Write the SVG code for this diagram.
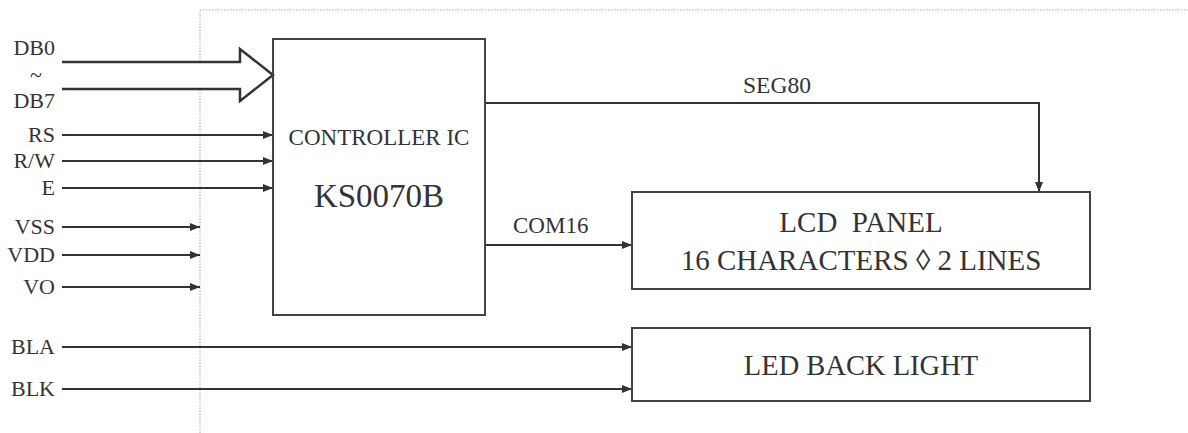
<svg xmlns="http://www.w3.org/2000/svg" width="1188" height="433" viewBox="0 0 1188 433">
<defs>
<marker id="ah" viewBox="0 0 10 8" refX="10" refY="4" markerWidth="10" markerHeight="8" markerUnits="userSpaceOnUse" orient="auto">
<path d="M0,0 L10,4 L0,8 Z" fill="#333"/>
</marker>
</defs>
<style>
text{font-family:"Liberation Serif","Times New Roman",serif;fill:#333}
.lbl{font-size:22px;text-anchor:end}
.box{fill:none;stroke:#444;stroke-width:2}
.wa{stroke:#333;stroke-width:2;fill:none;marker-end:url(#ah)}
</style>
<rect width="1188" height="433" fill="#fff"/>
<path d="M200,433 V10 H1188" fill="none" stroke="#aaa" stroke-width="1" stroke-dasharray="1.5,1.5"/>
<g id="connectors">
<path d="M62,62 H240 V49 L273,75 L240,101 V89 H62" fill="#fff" stroke="#333" stroke-width="2.5"/>
<line class="wa" x1="62" y1="135" x2="273" y2="135"/>
<line class="wa" x1="62" y1="161" x2="273" y2="161"/>
<line class="wa" x1="62" y1="188" x2="273" y2="188"/>
<line class="wa" x1="62" y1="227" x2="200" y2="227"/>
<line class="wa" x1="62" y1="255" x2="200" y2="255"/>
<line class="wa" x1="62" y1="287" x2="200" y2="287"/>
<line class="wa" x1="62" y1="347" x2="632" y2="347"/>
<line class="wa" x1="62" y1="389" x2="632" y2="389"/>
<path class="wa" d="M485,103 H1039 V192"/>
<line class="wa" x1="485" y1="245" x2="632" y2="245"/>
<text x="743" y="93" style="font-size:23.5px">SEG80</text>
<text x="513" y="233" style="font-size:23px">COM16</text>
</g>
<g id="inputs">
<text class="lbl" x="55" y="55">DB0</text>
<text x="36" y="82" style="font-size:22px;text-anchor:middle">~</text>
<text class="lbl" x="55" y="108">DB7</text>
<text class="lbl" x="55" y="142">RS</text>
<text class="lbl" x="55" y="168">R/W</text>
<text class="lbl" x="55" y="195">E</text>
<text class="lbl" x="55" y="234">VSS</text>
<text class="lbl" x="55" y="262">VDD</text>
<text class="lbl" x="55" y="294">VO</text>
<text class="lbl" x="55" y="354">BLA</text>
<text class="lbl" x="55" y="396">BLK</text>
</g>
<g id="controller">
<rect class="box" x="273" y="39" width="212" height="276"/>
<text x="379" y="145" style="font-size:23px;text-anchor:middle">CONTROLLER IC</text>
<text x="379" y="207" style="font-size:33px;text-anchor:middle">KS0070B</text>
</g>
<g id="lcd">
<rect class="box" x="632" y="192" width="458" height="97"/>
<text x="861" y="232" style="font-size:29px;text-anchor:middle" xml:space="preserve">LCD  PANEL</text>
<text x="861" y="270" style="font-size:29px;text-anchor:middle">16 CHARACTERS ◊ 2 LINES</text>
</g>
<g id="led">
<rect class="box" x="632" y="328" width="458" height="73"/>
<text x="861" y="375" style="font-size:28.5px;text-anchor:middle">LED BACK LIGHT</text>
</g>
</svg>
